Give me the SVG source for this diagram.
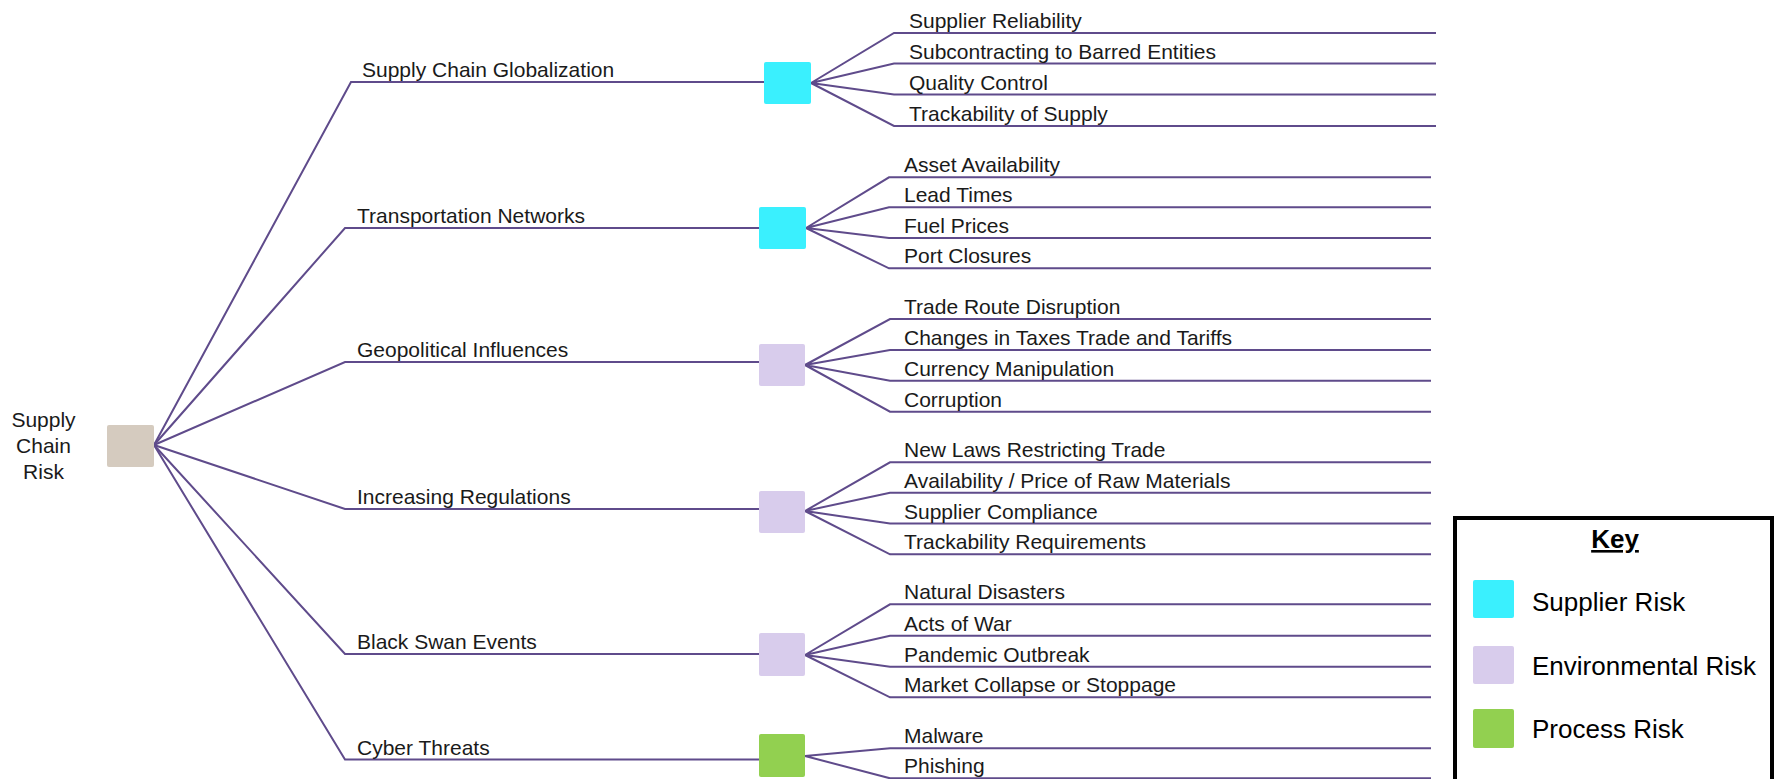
<svg xmlns="http://www.w3.org/2000/svg" width="1779" height="779" viewBox="0 0 1779 779">
<style>
text{font-family:"Liberation Sans",Arial,sans-serif;fill:#1a1a1a}
.t{font-size:21px}
.k{font-size:26px;fill:#000}
.ln{fill:none;stroke:#5f4b8b;stroke-width:2;stroke-linejoin:miter}
.sup{fill:#3af0fe}
.env{fill:#d8ccec}
.pro{fill:#92d050}
.root{fill:#d5cbbf}
</style>
<rect width="1779" height="779" fill="#fff"/>
<g id="connectors">
<path class="ln" d="M154,445 L351,82 L764,82"/>
<path class="ln" d="M154,445 L345,228 L759,228"/>
<path class="ln" d="M154,445 L345,362 L759,362"/>
<path class="ln" d="M154,445 L345,509 L759,509"/>
<path class="ln" d="M154,445 L345,654 L759,654"/>
<path class="ln" d="M154,445 L345,759.5 L759,759.5"/>
<path class="ln" d="M811,83 L894,33 L1436,33 M811,83 L894,63.5 L1436,63.5 M811,83 L894,94.5 L1436,94.5 M811,83 L894,126 L1436,126"/>
<path class="ln" d="M806,228 L889,177.3 L1431,177.3 M806,228 L889,207.3 L1431,207.3 M806,228 L889,238 L1431,238 M806,228 L889,268.3 L1431,268.3"/>
<path class="ln" d="M805,365 L890,319 L1431,319 M805,365 L890,350 L1431,350 M805,365 L890,380.7 L1431,380.7 M805,365 L890,411.7 L1431,411.7"/>
<path class="ln" d="M805,511 L890,462.3 L1431,462.3 M805,511 L890,492.7 L1431,492.7 M805,511 L890,523.5 L1431,523.5 M805,511 L890,554.3 L1431,554.3"/>
<path class="ln" d="M805,655 L890,604.3 L1431,604.3 M805,655 L890,635.7 L1431,635.7 M805,655 L890,666.7 L1431,666.7 M805,655 L890,697.3 L1431,697.3"/>
<path class="ln" d="M805,756 L890,748.3 L1431,748.3 M805,756 L890,778.3 L1431,778.3"/>
</g>
<g id="root">
<rect class="root" x="107" y="425" width="47" height="42" rx="2"/>
<text class="t" x="43.5" y="427" text-anchor="middle">Supply</text>
<text class="t" x="43.5" y="453" text-anchor="middle">Chain</text>
<text class="t" x="43.5" y="479" text-anchor="middle">Risk</text>
</g>
<g id="globalization">
<rect class="sup" x="764" y="62" width="47" height="42" rx="2"/>
<text class="t" x="362" y="77">Supply Chain Globalization</text>
<text class="t" x="909" y="28">Supplier Reliability</text>
<text class="t" x="909" y="58.5">Subcontracting to Barred Entities</text>
<text class="t" x="909" y="89.5">Quality Control</text>
<text class="t" x="909" y="121">Trackability of Supply</text>
</g>
<g id="transportation">
<rect class="sup" x="759" y="207" width="47" height="42" rx="2"/>
<text class="t" x="357" y="223">Transportation Networks</text>
<text class="t" x="904" y="172.3">Asset Availability</text>
<text class="t" x="904" y="202.3">Lead Times</text>
<text class="t" x="904" y="233">Fuel Prices</text>
<text class="t" x="904" y="263.3">Port Closures</text>
</g>
<g id="geopolitical">
<rect class="env" x="759" y="344" width="46" height="42" rx="2"/>
<text class="t" x="357" y="357">Geopolitical Influences</text>
<text class="t" x="904" y="314">Trade Route Disruption</text>
<text class="t" x="904" y="345">Changes in Taxes Trade and Tariffs</text>
<text class="t" x="904" y="375.7">Currency Manipulation</text>
<text class="t" x="904" y="406.7">Corruption</text>
</g>
<g id="regulations">
<rect class="env" x="759" y="491" width="46" height="42" rx="2"/>
<text class="t" x="357" y="504">Increasing Regulations</text>
<text class="t" x="904" y="457.3">New Laws Restricting Trade</text>
<text class="t" x="904" y="487.7">Availability / Price of Raw Materials</text>
<text class="t" x="904" y="518.5">Supplier Compliance</text>
<text class="t" x="904" y="549.3">Trackability Requirements</text>
</g>
<g id="blackswan">
<rect class="env" x="759" y="633" width="46" height="43" rx="2"/>
<text class="t" x="357" y="649">Black Swan Events</text>
<text class="t" x="904" y="599.3">Natural Disasters</text>
<text class="t" x="904" y="630.7">Acts of War</text>
<text class="t" x="904" y="661.7">Pandemic Outbreak</text>
<text class="t" x="904" y="692.3">Market Collapse or Stoppage</text>
</g>
<g id="cyber">
<rect class="pro" x="759" y="734" width="46" height="43" rx="2"/>
<text class="t" x="357" y="754.5">Cyber Threats</text>
<text class="t" x="904" y="743.3">Malware</text>
<text class="t" x="904" y="773.3">Phishing</text>
</g>
<g id="key">
<rect x="1455" y="518" width="317" height="300" fill="#fff" stroke="#000" stroke-width="4"/>
<text class="k" x="1615" y="548" text-anchor="middle" font-weight="bold" text-decoration="underline">Key</text>
<rect class="sup" x="1473" y="580" width="41" height="38" rx="2"/>
<text class="k" x="1532" y="611">Supplier Risk</text>
<rect class="env" x="1473" y="646" width="41" height="38" rx="2"/>
<text class="k" x="1532" y="675">Environmental Risk</text>
<rect class="pro" x="1473" y="709" width="41" height="39" rx="2"/>
<text class="k" x="1532" y="738">Process Risk</text>
</g>
</svg>
